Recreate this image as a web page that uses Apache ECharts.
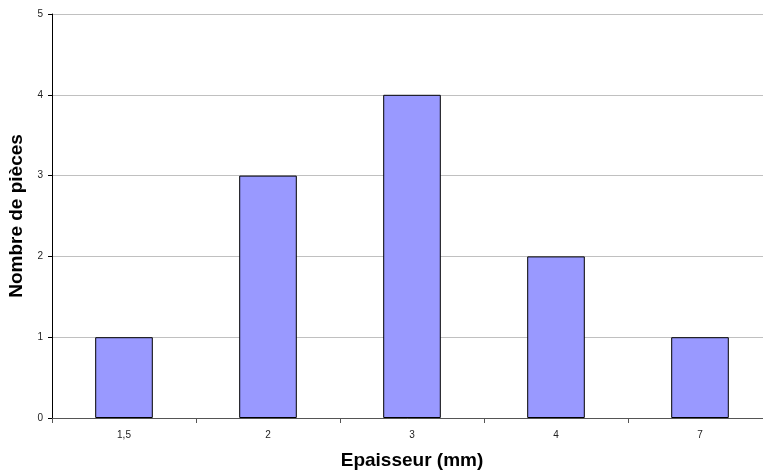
<!DOCTYPE html>
<html>
<head>
<meta charset="utf-8">
<script src="https://cdn.jsdelivr.net/npm/echarts@6/dist/echarts.min.js"></script>
<style>
  html, body { margin: 0; padding: 0; background: #fff; }
  #chart { width: 763px; height: 472px; }
</style>
</head>
<body>
<div id="chart"></div>
<script>
// épaisseurs (mm) et nombre de pièces
const categories = ['1,5', '2', '3', '4', '7'];
const counts = [1, 3, 4, 2, 1];

const chart = echarts.init(document.getElementById('chart'));
const font = 'Arial, "Liberation Sans", sans-serif';

chart.setOption({
  animation: false,
  grid: { left: 52, right: -9, top: 14, bottom: 54, containLabel: false, outerBoundsMode: 'none' },
  xAxis: {
    type: 'category',
    data: categories,
    name: 'Epaisseur (mm)',
    nameLocation: 'middle',
    nameGap: 33,
    nameTextStyle: { fontFamily: font, fontSize: 19, fontWeight: 'bold', color: '#000' },
    axisLine: { lineStyle: { color: '#555', width: 1 } },
    axisTick: { show: true, length: 5, lineStyle: { color: '#555' } },
    axisLabel: { fontFamily: font, fontSize: 10, color: '#222', margin: 12 }
  },
  yAxis: {
    type: 'value',
    min: 0,
    max: 5,
    interval: 1,
    name: 'Nombre de pièces',
    nameLocation: 'middle',
    nameGap: 25,
    nameTextStyle: { fontFamily: font, fontSize: 19, fontWeight: 'bold', color: '#000' },
    axisLine: { show: true, lineStyle: { color: '#000', width: 1 } },
    axisTick: { show: true, length: 4, lineStyle: { color: '#000' } },
    axisLabel: { fontFamily: font, fontSize: 10, color: '#222', margin: 9 },
    splitLine: { lineStyle: { color: '#c0c0c0', width: 1 } }
  },
  series: [{
    type: 'bar',
    data: counts,
    barWidth: '40%',
    itemStyle: { color: '#9999ff', borderColor: '#000', borderWidth: 1 }
  }]
});
</script>
</body>
</html>
